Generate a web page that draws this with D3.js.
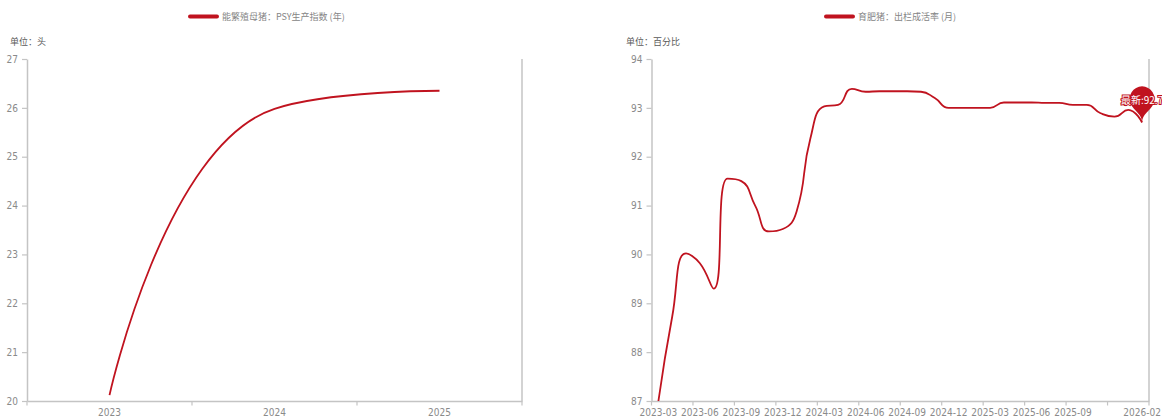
<!DOCTYPE html>
<html>
<head>
<meta charset="utf-8">
<script src="https://cdn.jsdelivr.net/npm/d3@7/dist/d3.min.js"></script>
<style>
  html, body { margin: 0; padding: 0; background: #fff; }
  svg { display: block; }
  .cjk { font-family: "Noto Sans CJK SC", "Noto Sans", sans-serif; }
  .num { font-family: "Liberation Sans Narrow", "DejaVu Sans Condensed", "Liberation Sans", sans-serif; font-stretch: condensed; }
</style>
</head>
<body>
<svg id="chart" width="1162" height="416"></svg>
<script>
// ---- data ----
const psyYears = ["2023", "2024", "2025"];
const psyValues = [20.12, 25.98, 26.35];
const psyTicks = [20, 21, 22, 23, 24, 25, 26, 27];

const survivalMonths = [
  "2023-03", "2023-04", "2023-05", "2023-06", "2023-07", "2023-08",
  "2023-09", "2023-10", "2023-11", "2023-12", "2024-01", "2024-02",
  "2024-03", "2024-04", "2024-05", "2024-06", "2024-07", "2024-08",
  "2024-09", "2024-10", "2024-11", "2024-12", "2025-01", "2025-02",
  "2025-03", "2025-04", "2025-05", "2025-06", "2025-07", "2025-08",
  "2025-09", "2025-10", "2025-11", "2025-12", "2026-01", "2026-02"
];
const survivalValues = [
  87.0, 88.73, 90.02, 89.82, 89.3, 91.55,
  91.5, 91.0, 90.47, 90.52, 90.88, 92.38,
  93.03, 93.06, 93.39, 93.33, 93.34, 93.34,
  93.34, 93.33, 93.2, 93.0, 93.0, 93.0,
  93.0, 93.11, 93.11, 93.11, 93.1, 93.1,
  93.06, 93.06, 92.89, 92.82, 92.96, 92.7
];
const survivalTicks = [87, 88, 89, 90, 91, 92, 93, 94];
const survivalLabelIdx = [0, 3, 6, 9, 12, 15, 18, 21, 24, 27, 30, 35];
const survivalTickIdx = [0, 3, 6, 9, 12, 15, 18, 21, 24, 27, 30, 33, 36];

const RED = "#c0131f";
const AXIS = "#c4c4c4";
const LABEL = "#8a8a8a";

// Smoothed cubic curve: control points follow the neighbour vector,
// clamped so the curve never overshoots between adjacent points.
class ClampedSmooth {
  constructor(context, smooth) { this._context = context; this._s = smooth; }
  areaStart() {} areaEnd() {}
  lineStart() { this._pts = []; }
  point(x, y) { this._pts.push([+x, +y]); }
  lineEnd() {
    const p = this._pts, c = this._context, s = this._s, n = p.length;
    if (!n) return;
    c.moveTo(p[0][0], p[0][1]);
    let cp0x = p[0][0], cp0y = p[0][1];
    for (let i = 1; i < n; i++) {
      const [x, y] = p[i], [px, py] = p[i - 1];
      let ncx, ncy, cp1x = x, cp1y = y;
      if (i === n - 1) { ncx = x; ncy = y; }
      else {
        const [nx, ny] = p[i + 1];
        let vx = nx - px, vy = ny - py;
        const l0 = Math.hypot(x - px, y - py), l1 = Math.hypot(nx - x, ny - y);
        const r = l1 / (l0 + l1);
        cp1x = x + vx * s * r; cp1y = y + vy * s * r;
        cp1x = Math.max(Math.min(cp1x, Math.max(nx, x)), Math.min(nx, x));
        cp1y = Math.max(Math.min(cp1y, Math.max(ny, y)), Math.min(ny, y));
        vx = cp1x - x; vy = cp1y - y;
        ncx = x - vx * l0 / l1; ncy = y - vy * l0 / l1;
        ncx = Math.max(Math.min(ncx, Math.max(px, x)), Math.min(px, x));
        ncy = Math.max(Math.min(ncy, Math.max(py, y)), Math.min(py, y));
        vx = x - ncx; vy = y - ncy;
        cp1x = x + vx * l1 / l0; cp1y = y + vy * l1 / l0;
      }
      c.bezierCurveTo(cp0x, cp0y, ncx, ncy, x, y);
      cp0x = cp1x; cp0y = cp1y;
    }
  }
}
const curveClampedSmooth = ctx => new ClampedSmooth(ctx, 0.5);

// Pin marker whose tip sits at (x, y)
function pinPath(x, y, size) {
  const w = size / 5 * 3, h = Math.max(w, size), r = w / 2;
  const dy = r * r / (h - r), cy = y - h + r + dy;
  const angle = Math.asin(dy / r), dx = Math.cos(angle) * r;
  const tanX = Math.sin(angle), tanY = Math.cos(angle);
  const cpLen = r * 0.6, cpLen2 = r * 0.7;
  const p = d3.path();
  p.moveTo(x - dx, cy + dy);
  p.arc(x, cy, r, Math.PI - angle, Math.PI * 2 + angle);
  p.bezierCurveTo(x + dx - tanX * cpLen, cy + dy + tanY * cpLen, x, y - cpLen2, x, y);
  p.bezierCurveTo(x, y - cpLen2, x - dx + tanX * cpLen, cy + dy + tanY * cpLen, x - dx, cy + dy);
  p.closePath();
  return { d: p.toString(), cy: cy };
}

const svg = d3.select("#chart");

function drawPanel(cfg) {
  const g = svg.append("g");
  const x = d3.scaleBand().domain(cfg.cats).range([cfg.left, cfg.right]);
  const y = d3.scaleLinear().domain([cfg.ticks[0], cfg.ticks[cfg.ticks.length - 1]]).range([cfg.bottom, cfg.top]);

  // legend
  const lg = g.append("g");
  lg.append("line")
    .attr("x1", cfg.legendX).attr("x2", cfg.legendX + 27)
    .attr("y1", 16.5).attr("y2", 16.5)
    .attr("stroke", RED).attr("stroke-width", 4).attr("stroke-linecap", "round");
  lg.append("text").attr("class", "cjk")
    .attr("x", cfg.legendX + 32).attr("y", 20)
    .attr("font-size", 9).attr("fill", "#858585")
    .text(cfg.legend);

  // unit caption
  g.append("text").attr("class", "cjk")
    .attr("x", cfg.unitX).attr("y", 45)
    .attr("font-size", 9).attr("fill", "#5a5a5a")
    .text(cfg.unit);

  // y axis
  const ya = g.append("g").attr("transform", `translate(${cfg.left},0)`)
    .call(d3.axisLeft(y).tickValues(cfg.ticks).tickFormat(d3.format("d"))
      .tickSize(5).tickSizeOuter(0).tickPadding(4));
  ya.select(".domain").attr("stroke", AXIS).attr("stroke-width", 1.5);
  ya.selectAll(".tick line").attr("stroke", AXIS).attr("stroke-width", 1.2);
  ya.selectAll(".tick text").attr("class", "num").attr("font-size", 10).attr("fill", LABEL);

  // right frame line
  g.append("line")
    .attr("x1", cfg.right).attr("x2", cfg.right)
    .attr("y1", cfg.top).attr("y2", cfg.bottom)
    .attr("stroke", AXIS).attr("stroke-width", 1.5);

  // x axis: labels centred in bands, ticks on band boundaries
  const xa = g.append("g").attr("transform", `translate(0,${cfg.bottom})`)
    .call(d3.axisBottom(x).tickValues(cfg.labelIdx.map(i => cfg.cats[i])).tickSize(0).tickPadding(8).tickSizeOuter(0));
  xa.select(".domain").attr("stroke", AXIS).attr("stroke-width", 1.5);
  xa.selectAll(".tick text").attr("class", "num").attr("font-size", 10).attr("fill", LABEL);
  const bx = i => i >= cfg.cats.length ? x.range()[1] : x(cfg.cats[i]);
  g.append("g").selectAll("line").data(cfg.tickIdx).join("line")
    .attr("x1", bx).attr("x2", bx)
    .attr("y1", cfg.bottom).attr("y2", cfg.bottom + 4.5)
    .attr("stroke", AXIS).attr("stroke-width", 1.2);

  // series line
  const line = d3.line()
    .x((d, i) => x(cfg.cats[i]) + x.bandwidth() / 2)
    .y(d => y(d))
    .curve(curveClampedSmooth);
  g.append("path").datum(cfg.values)
    .attr("d", line)
    .attr("fill", "none").attr("stroke", RED).attr("stroke-width", 1.8)
    .attr("stroke-linejoin", "round");

  return { g, x, y };
}

drawPanel({
  cats: psyYears, values: psyValues, ticks: psyTicks,
  left: 27, right: 522, top: 59, bottom: 401,
  labelIdx: [0, 1, 2], tickIdx: [0, 1, 2, 3],
  legendX: 190, legend: "能繁殖母猪：PSY生产指数 (年)",
  unitX: 10, unit: "单位：头"
});

const right = drawPanel({
  cats: survivalMonths, values: survivalValues, ticks: survivalTicks,
  left: 651.5, right: 1149, top: 59, bottom: 401,
  labelIdx: survivalLabelIdx, tickIdx: survivalTickIdx,
  legendX: 826, legend: "育肥猪：出栏成活率 (月)",
  unitX: 626, unit: "单位：百分比"
});

// latest-value pin on the last month
const lastIdx = survivalValues.length - 1;
const lastVal = survivalValues[lastIdx];
const px = right.x(survivalMonths[lastIdx]) + right.x.bandwidth() / 2;
const py = right.y(lastVal);
const pin = pinPath(px, py, 41.5);
right.g.append("path").attr("d", pin.d).attr("fill", RED);
right.g.append("text").attr("class", "cjk")
  .attr("x", px).attr("y", pin.cy + 2)
  .attr("text-anchor", "middle").attr("dominant-baseline", "middle")
  .attr("font-size", 10)
  .attr("fill", "#fff").attr("stroke", RED).attr("stroke-width", 2)
  .attr("paint-order", "stroke")
  .text("最新:" + lastVal);
</script>
</body>
</html>
